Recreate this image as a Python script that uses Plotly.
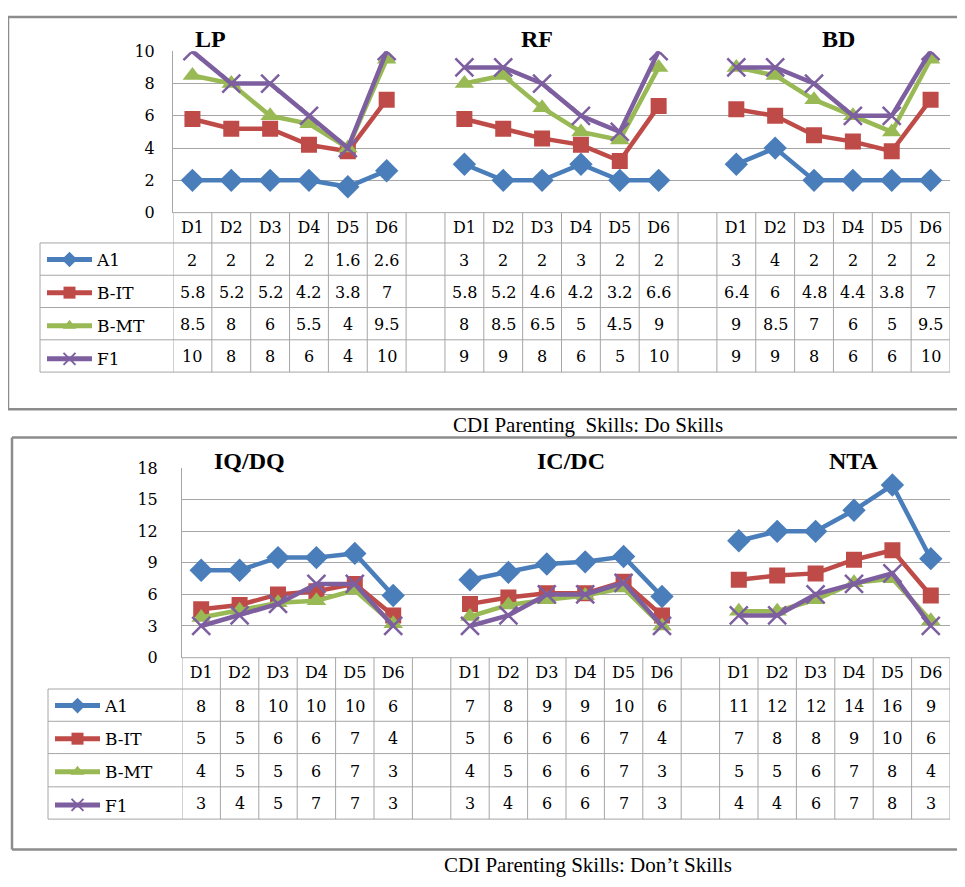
import plotly.graph_objects as go

W, H = 965, 887          # target window
OFF = 8                  # default page body margin
FW, FH = W - 2 * OFF, H - 2 * OFF

DAYS = ["D1", "D2", "D3", "D4", "D5", "D6"]
SERIES = ["A1", "B-IT", "B-MT", "F1"]
DO_GROUPS = ["LP", "RF", "BD"]
DONT_GROUPS = ["IQ/DQ", "IC/DC", "NTA"]

# Do skills (LP, RF, BD) - plotted values equal the table values
DO_A1 = [[2, 2, 2, 2, 1.6, 2.6], [3, 2, 2, 3, 2, 2], [3, 4, 2, 2, 2, 2]]
DO_BIT = [[5.8, 5.2, 5.2, 4.2, 3.8, 7], [5.8, 5.2, 4.6, 4.2, 3.2, 6.6], [6.4, 6, 4.8, 4.4, 3.8, 7]]
DO_BMT = [[8.5, 8, 6, 5.5, 4, 9.5], [8, 8.5, 6.5, 5, 4.5, 9], [9, 8.5, 7, 6, 5, 9.5]]
DO_F1 = [[10, 8, 8, 6, 4, 10], [9, 9, 8, 6, 5, 10], [9, 9, 8, 6, 6, 10]]

# Don't skills (IQ/DQ, IC/DC, NTA) - plotted (unrounded) values
DONT_A1 = [[8.3, 8.3, 9.5, 9.5, 9.9, 5.9], [7.4, 8.1, 8.9, 9.1, 9.6, 5.8], [11.1, 12.0, 12.0, 14.0, 16.4, 9.4]]
DONT_BIT = [[4.6, 5.0, 6.0, 6.3, 7.0, 4.0], [5.1, 5.7, 6.1, 6.1, 7.2, 4.0], [7.4, 7.8, 8.0, 9.3, 10.2, 5.9]]
DONT_BMT = [[3.8, 4.5, 5.2, 5.4, 6.4, 3.2], [3.9, 5.0, 5.5, 5.9, 6.6, 3.0], [4.4, 4.4, 5.5, 7.1, 7.5, 3.5]]
DONT_F1 = [[3.0, 4.0, 5.1, 7.0, 7.0, 3.0], [3.0, 4.0, 6.0, 6.0, 7.1, 3.0], [4.0, 4.0, 6.0, 7.0, 8.0, 3.0]]

# Don't skills - values printed in the data table (rounded)
DONT_A1_TXT = [[8, 8, 10, 10, 10, 6], [7, 8, 9, 9, 10, 6], [11, 12, 12, 14, 16, 9]]
DONT_BIT_TXT = [[5, 5, 6, 6, 7, 4], [5, 6, 6, 6, 7, 4], [7, 8, 8, 9, 10, 6]]
DONT_BMT_TXT = [[4, 5, 5, 6, 7, 3], [4, 5, 6, 6, 7, 3], [5, 5, 6, 7, 8, 4]]
DONT_F1_TXT = [[3, 4, 5, 7, 7, 3], [3, 4, 6, 6, 7, 3], [4, 4, 6, 7, 8, 3]]

DO_Y_TICKS = [0, 2, 4, 6, 8, 10]
DONT_Y_TICKS = [0, 3, 6, 9, 12, 15, 18]

CAPTION_DO = "CDI Parenting \u00a0Skills: Do Skills"
CAPTION_DONT = "CDI Parenting Skills: Don\u2019t Skills"

COLORS = ["#4A7EBB", "#BE4B48", "#98B954", "#7D5FA0"]
SYMBOLS = ["diamond", "square", "triangle-up", "x-thin-open"]
SIZES = [18, 16, 17, 18]

SERIF = "DejaVu Serif"
TIMES = "Liberation Serif"
GRID = "#A6A6A6"
FRAME = "#8C8C8C"
TXT_SIZE = 16


def px(x):
    return (x - OFF) / FW


def py(y):
    return 1 - (y - OFF) / FH


def flat(groups):
    out = []
    for i, g in enumerate(groups):
        if i:
            out.append(None)
        out.extend(g)
    return out


NCOL = 6 * 3 + 2
XS = list(range(NCOL))
TICKVALS = [g * 7 + d for g in range(3) for d in range(6)]
TICKTEXT = DAYS * 3

fig = go.Figure()

panels = [
    dict(vals=[DO_A1, DO_BIT, DO_BMT, DO_F1], txt=[DO_A1, DO_BIT, DO_BMT, DO_F1],
         xa="x", ya="y", legend="legend", groups=DO_GROUPS),
    dict(vals=[DONT_A1, DONT_BIT, DONT_BMT, DONT_F1],
         txt=[DONT_A1_TXT, DONT_BIT_TXT, DONT_BMT_TXT, DONT_F1_TXT],
         xa="x2", ya="y2", legend="legend2", groups=DONT_GROUPS),
]

for p in panels:
    for i, s in enumerate(SERIES):
        fig.add_trace(go.Scatter(
            x=XS, y=flat(p["vals"][i]), name=s, mode="lines+markers",
            xaxis=p["xa"], yaxis=p["ya"], legend=p["legend"], legendgroup=p["legend"] + s,
            connectgaps=False,
            line=dict(color=COLORS[i], width=4.5),
            marker=dict(symbol=SYMBOLS[i], size=SIZES[i], color=COLORS[i],
                        line=dict(color=COLORS[i], width=2.5 if i == 3 else 0)),
        ))

# geometry (reference pixels)
TOP = dict(left=173, right=950, ytop=43, ybot=208, rows=[208, 239, 272, 305, 338, 371], tleft=40)
BOT = dict(left=182, right=950, ytop=469.3, ybot=662.8, rows=[663, 695, 728, 761, 795, 828], tleft=48)

axis_font = dict(family=SERIF, size=TXT_SIZE, color="black")
leg_font = dict(family=SERIF, size=17, color="black")

fig.update_layout(
    width=FW, height=FH, margin=dict(l=0, r=0, t=0, b=0),
    paper_bgcolor="white", plot_bgcolor="white",
    showlegend=True,
    xaxis=dict(domain=[px(TOP["left"]), px(TOP["right"])], range=[-0.5, NCOL - 0.5],
               tickvals=TICKVALS, ticktext=TICKTEXT, tickfont=axis_font, showgrid=False,
               zeroline=False, showline=False, anchor="y", ticks="", ticklabelstandoff=3),
    yaxis=dict(domain=[py(TOP["ybot"]), py(TOP["ytop"])], range=[0, 10], tickvals=DO_Y_TICKS,
               tickfont=axis_font, showgrid=True, gridcolor=GRID, gridwidth=1, zeroline=False,
               showline=True, linecolor=GRID, linewidth=1, anchor="x", ticks="", ticklabelstandoff=14),
    xaxis2=dict(domain=[px(BOT["left"]), px(BOT["right"])], range=[-0.5, NCOL - 0.5],
                tickvals=TICKVALS, ticktext=TICKTEXT, tickfont=axis_font, showgrid=False,
                zeroline=False, showline=False, anchor="y2", ticks="", ticklabelstandoff=3),
    yaxis2=dict(domain=[py(BOT["ybot"]), py(BOT["ytop"])], range=[0, 18], tickvals=DONT_Y_TICKS,
                tickfont=axis_font, showgrid=True, gridcolor=GRID, gridwidth=1, zeroline=False,
                showline=True, linecolor=GRID, linewidth=1, anchor="x2", ticks="", ticklabelstandoff=20),
    legend=dict(x=px(TOP["tleft"] + 2), y=py(TOP["rows"][1] - 1), xanchor="left", yanchor="top",
                traceorder="grouped", tracegroupgap=8, itemsizing="constant", itemwidth=45,
                font=leg_font, bgcolor="rgba(0,0,0,0)"),
    legend2=dict(x=px(BOT["tleft"] + 2), y=py(BOT["rows"][1] - 1), xanchor="left", yanchor="top",
                 traceorder="grouped", tracegroupgap=8, itemsizing="constant", itemwidth=45,
                 font=leg_font, bgcolor="rgba(0,0,0,0)"),
)

shapes = []
annotations = []


def hline(x0, x1, y, color, width):
    return dict(type="line", xref="paper", yref="paper", x0=px(x0), x1=px(x1), y0=py(y), y1=py(y),
                line=dict(color=color, width=width))


def vline(x, y0, y1, color, width):
    return dict(type="line", xref="paper", yref="paper", x0=px(x), x1=px(x), y0=py(y0), y1=py(y1),
                line=dict(color=color, width=width))


# outer frames (open on the right, as in the reference crop)
for (l, t, b) in [(8, 8, 409), (12, 438, 859)]:
    shapes.append(hline(l, W, t, FRAME, 2.5))
    shapes.append(hline(l, W, b, FRAME, 2.5))
    shapes.append(vline(l, t, b, FRAME, 2.5))

for p, g in zip(panels, [TOP, BOT]):
    xa = p["xa"]
    rows = g["rows"]
    shapes.append(hline(g["left"], g["right"], rows[0], GRID, 1))
    for r in rows[1:]:
        shapes.append(hline(g["tleft"], g["right"], r, GRID, 1))
    shapes.append(vline(g["tleft"], rows[1], rows[-1], GRID, 1))
    for k in range(NCOL + 1):
        shapes.append(dict(type="line", xref=xa, yref="paper", x0=k - 0.5, x1=k - 0.5,
                           y0=py(rows[0]), y1=py(rows[-1]), line=dict(color=GRID, width=1)))
    for i in range(4):
        yc = py((rows[i + 1] + rows[i + 2]) / 2 + 1)
        for gi in range(3):
            for d in range(6):
                v = p["txt"][i][gi][d]
                annotations.append(dict(x=gi * 7 + d, y=yc, xref=xa, yref="paper", text=f"{v:g}",
                                        showarrow=False, font=dict(family=SERIF, size=TXT_SIZE, color="black"),
                                        xanchor="center", yanchor="middle"))

title_font = dict(family=TIMES, size=24, color="black")
for t, (x, y) in zip(DO_GROUPS, [(210, 31), (537, 31), (838, 31)]):
    annotations.append(dict(x=px(x), y=py(y), xref="paper", yref="paper", text=f"<b>{t}</b>", showarrow=False,
                            font=title_font, xanchor="center", yanchor="middle"))
for t, (x, y) in zip(DONT_GROUPS, [(249, 462), (571, 462), (854, 462)]):
    annotations.append(dict(x=px(x), y=py(y), xref="paper", yref="paper", text=f"<b>{t}</b>", showarrow=False,
                            font=title_font, xanchor="center", yanchor="middle"))

cap_font = dict(family=TIMES, size=21, color="black")
annotations.append(dict(x=px(588), y=py(425), xref="paper", yref="paper", text=CAPTION_DO, showarrow=False,
                        font=cap_font, xanchor="center", yanchor="middle"))
annotations.append(dict(x=px(588), y=py(875), xref="paper", yref="paper", text=CAPTION_DONT, showarrow=False,
                        font=cap_font, xanchor="center", yanchor="middle"))

fig.update_layout(shapes=shapes, annotations=annotations)
fig.write_html("out.html")
